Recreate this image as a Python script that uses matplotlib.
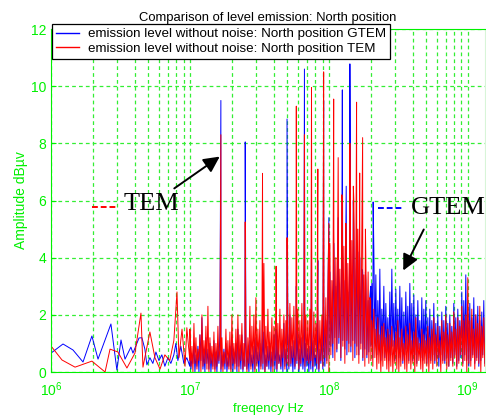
import numpy as np
import matplotlib.pyplot as plt
from matplotlib.lines import Line2D

plt.rcParams['font.family'] = ['Liberation Sans', 'DejaVu Sans']

GREEN = '#00f000'
GRID = '#33ee33'

# 1 - 10 MHz: sparse sweep points (MHz, dBuV)
gtem_low_mhz = [1.00, 1.22, 1.44, 1.70, 1.97, 2.18, 2.70, 2.98, 3.19, 3.41, 3.76, 3.89,
                4.30, 4.51, 4.74, 4.90, 5.15, 5.41, 5.69, 5.98, 6.28, 6.60, 6.94, 7.29,
                7.66, 7.92, 8.19, 8.60, 9.04, 9.50, 9.98]
gtem_low_amp = [0.66, 0.98, 0.77, 0.35, 1.26, 0.45, 1.68, 0.07, 1.12, 0.45, 0.87, 0.66,
                1.19, 1.20, 0.80, 0.25, 0.50, 0.30, 0.70, 0.40, 0.60, 0.20, 0.50, 0.30,
                0.60, 1.00, 0.40, 0.90, 0.30, 0.50, 0.20]
tem_low_mhz = [1.00, 1.20, 1.49, 1.97, 2.45, 2.66, 3.03, 3.52, 4.02, 4.44, 4.59, 5.15,
               5.60, 6.09, 6.60, 7.16, 7.66, 8.07, 8.33, 8.77, 9.22, 9.50, 9.98]
tem_low_amp = [0.91, 0.42, 0.17, 0.38, 0.00, 0.80, 0.70, 0.14, 0.66, 2.06, 0.17, 1.40,
               0.50, 0.10, 0.60, 0.40, 1.10, 2.80, 0.50, 1.50, 0.20, 1.55, 0.40]

# harmonic lines (MHz) and their levels
harm_mhz = [16.7, 25.0, 33.3, 41.7, 50.0, 58.3, 66.7, 75.0, 83.3, 91.7, 100.0, 108.3,
            116.7, 125.0, 133.3, 141.7, 150.0, 158.3, 166.7, 175.0, 183.3, 191.7, 200.0, 208.3]
gtem_peak = [9.5, 8.05, 2.0, 1.5, 8.85, 3.0, 10.6, 4.5, 3.9, 9.5, 5.4, 4.0,
             5.4, 9.87, 6.5, 10.78, 6.0, 5.0, 4.0, 3.5, 3.5, 2.5, 3.0, 5.95]
tem_peak = [8.3, 5.25, 6.95, 3.7, 4.7, 9.3, 8.3, 9.95, 7.1, 10.5, 5.2, 9.55,
            7.5, 6.0, 4.5, 8.0, 6.5, 9.44, 6.96, 8.2, 5.0, 3.5, 2.5, 1.5]

# 10 MHz - 1.39 GHz: max / min of the dense trace in 150 log bins
tem_hi = [1.5, 0.9, 1.7, 1.2, 0.8, 1.3, 2.0, 1.1, 1.6, 2.3,
          1.2, 0.9, 1.4, 1.0, 1.6, 0.8, 1.2, 0.7, 1.5, 1.1,
          1.4, 2.0, 1.0, 1.5, 2.0, 1.3, 1.7, 1.0, 1.4, 1.2,
          2.3, 1.6, 2.0, 2.6, 1.5, 1.8, 1.2, 3.8, 1.6, 2.2,
          1.4, 1.9, 1.6, 2.5, 1.7, 2.2, 1.5, 2.0, 1.8, 1.6,
          2.4, 1.9, 2.3, 1.6, 2.2, 1.8, 2.4, 1.7, 2.0, 1.8,
          2.2, 1.6, 2.1, 1.7, 2.3, 1.8, 2.0, 2.4, 2.6, 3.0,
          4.5, 3.2, 5.0, 4.0, 5.5, 3.6, 6.2, 4.4, 5.2, 3.8,
          5.6, 4.6, 6.0, 3.9, 5.0, 4.2, 4.8, 3.4, 4.0, 2.8,
          2.6, 1.8, 2.2, 1.5, 1.9, 1.3, 1.6, 1.7, 1.2, 1.5,
          1.3, 1.6, 1.1, 1.4, 1.8, 1.2, 1.5, 1.0, 1.6, 1.3,
          1.7, 1.1, 1.4, 1.9, 1.2, 1.0, 1.5, 1.3, 1.1, 1.6,
          1.2, 1.5, 1.9, 1.3, 1.6, 1.1, 1.8, 1.4, 2.0, 1.3,
          1.7, 1.4, 2.1, 1.5, 1.9, 1.6, 2.3, 1.8, 2.0, 3.3,
          1.8, 2.2, 1.5, 2.0, 1.7, 2.3, 1.6, 1.9, 1.5, 1.4]
tem_lo = [0.2, 0.0, 0.3, 0.1, 0.4, 0.0, 0.2, 0.3, 0.1, 0.0,
          0.3, 0.1, 0.0, 0.2, 0.4, 0.1, 0.0, 0.3, 0.2, 0.1,
          0.0, 0.3, 0.1, 0.2, 0.0, 0.4, 0.1, 0.2, 0.0, 0.3,
          0.1, 0.3, 0.0, 0.2, 0.4, 0.1, 0.3, 0.0, 0.2, 0.4,
          0.2, 0.0, 0.4, 0.1, 0.3, 0.2, 0.5, 0.1, 0.3, 0.2,
          0.3, 0.5, 0.2, 0.4, 0.1, 0.3, 0.5, 0.2, 0.4, 0.3,
          0.4, 0.2, 0.5, 0.3, 0.1, 0.4, 0.2, 0.5, 0.3, 0.0,
          0.6, 1.0, 0.4, 0.8, 1.2, 0.5, 0.9, 0.3, 1.1, 0.7,
          0.9, 0.4, 1.0, 0.6, 0.3, 0.8, 0.5, 0.2, 0.6, 0.3,
          0.4, 0.2, 0.5, 0.1, 0.3, 0.0, 0.2, 0.4, 0.1, 0.0,
          0.2, 0.0, 0.3, 0.1, 0.0, 0.2, 0.4, 0.1, 0.0, 0.3,
          0.1, 0.3, 0.0, 0.2, 0.4, 0.1, 0.0, 0.3, 0.2, 0.0,
          0.3, 0.1, 0.4, 0.2, 0.5, 0.0, 0.3, 0.4, 0.1, 0.2,
          0.4, 0.2, 0.5, 0.1, 0.3, 0.6, 0.2, 0.4, 0.0, 0.3,
          0.2, 0.5, 0.1, 0.4, 0.3, 0.0, 0.5, 0.2, 0.4, 0.3]
gtem_hi = [0.8, 0.5, 1.0, 0.6, 0.9, 1.3, 1.9, 0.7, 1.2, 0.8,
           1.0, 0.6, 1.1, 0.7, 0.9, 1.4, 0.6, 0.8, 1.0, 0.5,
           0.9, 1.2, 0.7, 1.0, 1.5, 0.8, 1.3, 0.6, 1.0, 0.7,
           1.1, 0.6, 0.9, 1.2, 0.7, 1.0, 0.8, 1.4, 0.6, 0.9,
           1.0, 0.7, 1.3, 0.8, 1.1, 0.6, 1.0, 1.7, 0.8, 1.2,
           2.0, 0.9, 1.1, 0.7, 1.4, 0.8, 1.2, 0.6, 1.0, 0.8,
           0.9, 0.7, 1.1, 0.6, 1.0, 0.8, 1.3, 1.0, 1.8, 2.5,
           3.5, 2.2, 4.5, 3.0, 4.0, 2.6, 4.8, 3.2, 5.2, 2.8,
           4.6, 3.4, 5.0, 2.9, 4.2, 3.0, 3.6, 2.4, 3.2, 2.0,
           2.6, 3.1, 4.3, 3.4, 2.5, 3.6, 2.2, 3.0, 2.4, 1.9,
           2.8, 3.6, 2.4, 2.9, 2.2, 3.0, 2.6, 2.1, 2.8, 2.3,
           3.1, 2.4, 2.7, 2.0, 2.5, 1.8, 2.6, 2.2, 2.5, 1.9,
           2.2, 1.8, 2.4, 1.7, 2.0, 1.6, 2.1, 1.8, 2.3, 1.7,
           2.0, 1.6, 2.4, 1.9, 2.2, 1.8, 2.8, 2.5, 3.4, 2.2,
           2.4, 1.9, 2.6, 2.0, 2.3, 1.8, 2.1, 2.5, 1.7, 1.6]
gtem_lo = [0.1, 0.3, 0.0, 0.2, 0.0, 0.4, 0.1, 0.0, 0.3, 0.1,
           0.0, 0.2, 0.1, 0.0, 0.3, 0.0, 0.2, 0.1, 0.0, 0.2,
           0.1, 0.0, 0.3, 0.0, 0.2, 0.1, 0.0, 0.2, 0.1, 0.0,
           0.2, 0.0, 0.1, 0.3, 0.0, 0.2, 0.1, 0.0, 0.2, 0.1,
           0.0, 0.2, 0.1, 0.0, 0.3, 0.1, 0.0, 0.2, 0.0, 0.1,
           0.2, 0.0, 0.1, 0.3, 0.0, 0.2, 0.1, 0.0, 0.2, 0.0,
           0.1, 0.0, 0.2, 0.1, 0.0, 0.3, 0.1, 0.2, 0.4, 0.6,
           0.9, 0.5, 1.2, 0.7, 1.0, 0.4, 1.1, 0.8, 0.6, 1.0,
           0.7, 1.1, 0.5, 0.9, 0.6, 1.0, 0.4, 0.8, 0.5, 0.7,
           0.9, 0.5, 1.0, 0.6, 0.8, 0.4, 0.9, 0.5, 0.7, 0.4,
           0.6, 0.9, 0.4, 0.8, 0.5, 0.7, 0.3, 0.6, 0.8, 0.4,
           0.7, 0.4, 0.6, 0.3, 0.8, 0.5, 0.4, 0.7, 0.3, 0.5,
           0.4, 0.6, 0.3, 0.5, 0.2, 0.6, 0.4, 0.3, 0.5, 0.2,
           0.5, 0.3, 0.6, 0.2, 0.4, 0.5, 0.3, 0.6, 0.4, 0.2,
           0.4, 0.6, 0.3, 0.5, 0.2, 0.4, 0.6, 0.3, 0.5, 0.4]


def trace(low_f, low_a, hi, lo, peaks):
    # zigzag max/min per bin, plus the harmonic lines, sorted by frequency
    bins = np.geomspace(10, 1393, len(hi))
    mid = bins * np.sqrt(bins[1] / bins[0])
    f = np.concatenate([low_f, np.column_stack([bins, mid]).ravel(), harm_mhz])
    a = np.concatenate([low_a, np.column_stack([hi, lo]).ravel(), peaks])
    order = np.argsort(f, kind='stable')
    return f[order] * 1e6, a[order]


fig = plt.figure(figsize=(4.86, 4.15), dpi=100)
ax = fig.add_axes([51 / 486, 43 / 415, 434 / 486, 343 / 415])

f_g, a_g = trace(gtem_low_mhz, gtem_low_amp, gtem_hi, gtem_lo, gtem_peak)
f_t, a_t = trace(tem_low_mhz, tem_low_amp, tem_hi, tem_lo, tem_peak)
ax.plot(f_g, a_g, color='#0000ff', lw=0.7)
ax.plot(f_t, a_t, color='#ff0000', lw=0.7)

ax.set_xscale('log')
ax.set_xlim(1e6, 1.33e9)
ax.set_ylim(0, 12)
ax.set_yticks(range(0, 13, 2))
ax.grid(True, which='both', axis='x', color=GRID, ls=(0, (3, 2.5)), lw=0.9)
ax.grid(True, which='major', axis='y', color=GRID, ls=(0, (3, 2.5)), lw=0.9)
ax.tick_params(which='both', direction='in', colors=GREEN, labelsize=10)
ax.tick_params(axis='x', pad=6)
ax.tick_params(which='minor', length=2)
for s in ax.spines.values():
    s.set_color(GREEN)
ax.spines['right'].set_color('#d8f5d8')

ax.set_title('Comparison of level emission: North position', fontsize=9.4, pad=6)
ax.set_xlabel('freqency Hz', color=GREEN, fontsize=9.5, labelpad=3)
ax.set_ylabel('Amplitude dBµv', color=GREEN, fontsize=10, labelpad=2)

handles = [Line2D([], [], color='#0000ff', lw=1), Line2D([], [], color='#ff0000', lw=1)]
leg = fig.legend(handles, ['emission level without noise: North position GTEM',
                           'emission level without noise: North position TEM'],
                 loc='upper left', bbox_to_anchor=(52 / 486, 1 - 24 / 415),
                 fontsize=9.6, frameon=True, fancybox=False, framealpha=1,
                 edgecolor='black', handlelength=1.7, handletextpad=0.7,
                 borderpad=0.3, labelspacing=0.15, borderaxespad=0)
leg.get_frame().set_linewidth(0.9)

# hand-drawn annotations
tf = fig.transFigure
fig.add_artist(Line2D([92 / 486, 117 / 486], [1 - 207 / 415] * 2, transform=tf,
                      color='red', lw=1.4, ls=(0, (3, 1.5))))
fig.add_artist(Line2D([378 / 486, 403 / 486], [1 - 208 / 415] * 2, transform=tf,
                      color='blue', lw=1.4, ls=(0, (3, 1.5))))
fig.text(124 / 486, 1 - 204 / 415, 'TEM', family='Liberation Serif', fontsize=19,
         va='center', ha='left')
fig.text(411 / 486, 1 - 208 / 415, 'GTEM', family='Liberation Serif', fontsize=19,
         va='center', ha='left')
ax.annotate('', xy=(222 / 486, 1 - 155 / 415), xytext=(172 / 486, 1 - 190 / 415),
            xycoords='figure fraction', textcoords='figure fraction',
            arrowprops=dict(arrowstyle='-|>', color='black', lw=1.4, mutation_scale=24))
ax.annotate('', xy=(402 / 486, 1 - 273 / 415), xytext=(425 / 486, 1 - 227 / 415),
            xycoords='figure fraction', textcoords='figure fraction',
            arrowprops=dict(arrowstyle='-|>', color='black', lw=1.4, mutation_scale=24))

fig.savefig('out.png', dpi=100)
